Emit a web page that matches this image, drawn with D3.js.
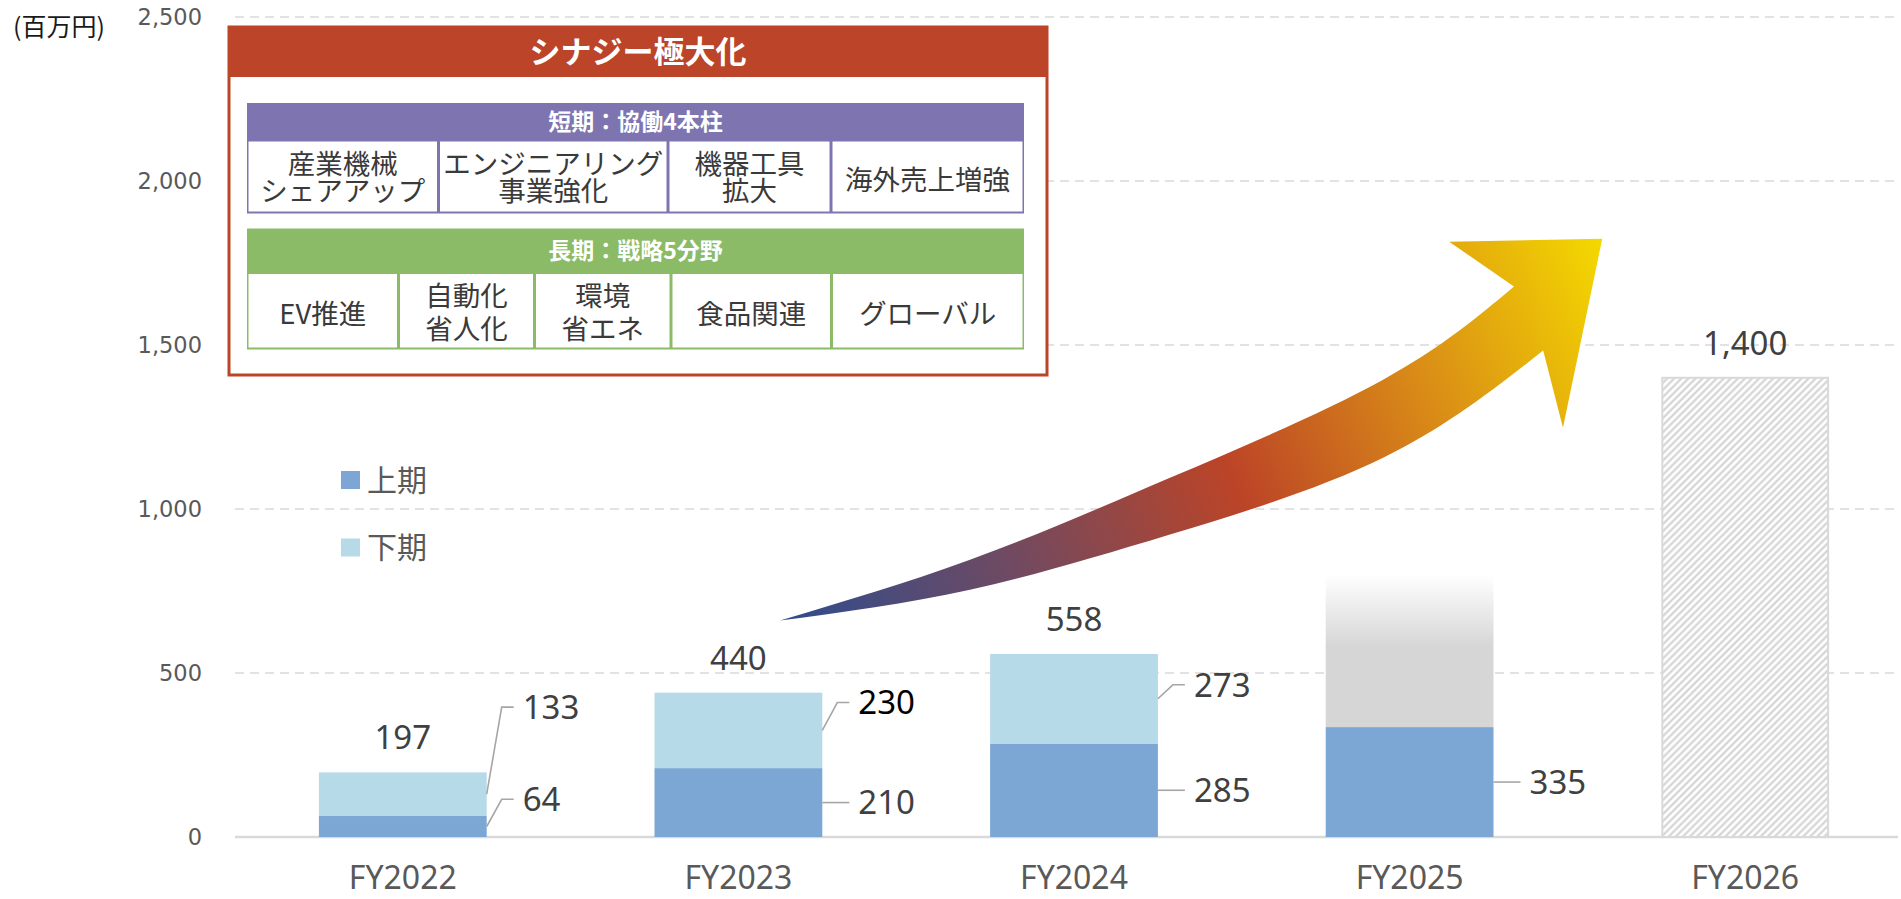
<!DOCTYPE html>
<html>
<head>
<meta charset="utf-8">
<script src="https://cdn.jsdelivr.net/npm/d3@7"></script>
<style>
  html, body { margin: 0; padding: 0; background: #ffffff; }
  svg { display: block; }
</style>
</head>
<body>
<svg id="chart" width="1901" height="899"></svg>
<script>
// ---- data ----
const categories   = ["FY2022", "FY2023", "FY2024", "FY2025", "FY2026"];
const firstHalf    = [64, 210, 285, 335, null];     // 上期
const secondHalf   = [133, 230, 273, null, null];   // 下期
const totals       = [197, 440, 558, null, 1400];   // 通期
const outlookBand  = [580, 800];                    // FY2025 下期見通し (solid to, fades out by)
const outlookIndex = 3;
const targetIndex  = 4;
const yTicks       = [0, 500, 1000, 1500, 2000, 2500];
const legendNames  = ["上期", "下期"];
const unitLabel    = "(百万円)";

const boxTitle       = "シナジー極大化";
const shortTermTitle = "短期：協働4本柱";
const shortTermItems = [["産業機械", "シェアアップ"], ["エンジニアリング", "事業強化"], ["機器工具", "拡大"], ["海外売上増強"]];
const longTermTitle  = "長期：戦略5分野";
const longTermItems  = [["EV推進"], ["自動化", "省人化"], ["環境", "省エネ"], ["食品関連"], ["グローバル"]];

// growth arrow outline, as [category index, value]
const arrowTop    = [[1.124, 660], [1.690, 845], [2.286, 1095], [2.921, 1394], [3.311, 1678]];
const arrowHead   = [[3.118, 1815], [3.574, 1824], [3.457, 1248], [3.398, 1483]];
const arrowBottom = [[3.398, 1483], [2.921, 1156], [2.286, 922], [1.690, 754], [1.124, 660]];

// ---- layout ----
const plotLeft = 235, plotRight = 1898;
const sideLabelValue = {           // where each side label sits, in axis units
  "0-0": 115, "0-1": 396,
  "1-0": 105, "1-1": 410,
  "2-0": 142, "2-1": 464,
  "3-0": 168
};
const colours = {
  first: "#7CA7D4", second: "#B7DAE9", grid: "#D9D9D9", axisText: "#595959",
  label: "#404040", leader: "#A6A6A6", outlook: "#D6D6D6", hatch: "#CFCFCF",
  red: "#BB4429", purple: "#7E75B0", green: "#8BBB67", cellText: "#3A3A3A"
};
const jp = "'Noto Sans CJK JP', 'Noto Sans', sans-serif";
const num = "'Noto Sans', 'Open Sans', sans-serif";

const svg = d3.select("#chart");
const defs = svg.append("defs");

const y = d3.scaleLinear().domain([0, 2500]).range([837, 17]);
const x = d3.scaleBand().domain(categories).range([235, 1913]).paddingInner(0.5).paddingOuter(0.25);
const bw = x.bandwidth();
const xi = d3.scaleLinear().domain([0, categories.length - 1])
  .range([x(categories[0]) + bw / 2, x(categories[categories.length - 1]) + bw / 2]);
const fmt = d3.format(",");

// ---- gridlines ----
svg.append("g").selectAll("line").data(yTicks.filter(d => d > 0)).join("line")
  .attr("x1", plotLeft).attr("x2", plotRight)
  .attr("y1", d => y(d)).attr("y2", d => y(d))
  .attr("stroke", colours.grid).attr("stroke-width", 1.5).attr("stroke-dasharray", "9,6");
svg.append("line").attr("x1", plotLeft).attr("x2", plotRight)
  .attr("y1", y(0)).attr("y2", y(0)).attr("stroke", colours.grid).attr("stroke-width", 2.5);

// ---- y axis ----
const yAxis = svg.append("g").attr("transform", "translate(202,0)")
  .call(d3.axisLeft(y).tickValues(yTicks).tickFormat(fmt).tickSize(0).tickPadding(0));
yAxis.select(".domain").remove();
yAxis.selectAll("text").attr("font-family", "'DejaVu Sans', Verdana, sans-serif")
  .attr("font-size", 22.5).attr("fill", colours.axisText);

svg.append("text").attr("x", 13).attr("y", 27).attr("dy", "0.36em")
  .attr("font-family", jp).attr("font-size", 25).attr("fill", "#1a1a1a").text(unitLabel);

// ---- x axis labels ----
svg.append("g").selectAll("text").data(categories).join("text")
  .attr("x", d => x(d) + bw / 2).attr("y", 889)
  .attr("text-anchor", "middle").attr("font-family", num).attr("font-size", 32)
  .attr("fill", colours.axisText).text(d => d);

// ---- FY2025 outlook (fading grey) ----
const outTop = y(outlookBand[1]), outBot = y(firstHalf[outlookIndex]);
const fadeGrad = defs.append("linearGradient").attr("id", "outlookFade")
  .attr("x1", 0).attr("y1", 0).attr("x2", 0).attr("y2", 1);
fadeGrad.append("stop").attr("offset", 0).attr("stop-color", "#ffffff");
fadeGrad.append("stop").attr("offset", (y(outlookBand[0]) - outTop) / (outBot - outTop)).attr("stop-color", colours.outlook);
fadeGrad.append("stop").attr("offset", 1).attr("stop-color", colours.outlook);
svg.append("rect").attr("x", x(categories[outlookIndex])).attr("width", bw)
  .attr("y", outTop).attr("height", outBot - outTop).attr("fill", "url(#outlookFade)");

// ---- FY2026 target (hatched) ----
const hatch = defs.append("pattern").attr("id", "hatch").attr("patternUnits", "userSpaceOnUse")
  .attr("width", 5).attr("height", 5).attr("patternTransform", "rotate(45)");
hatch.append("rect").attr("width", 5).attr("height", 5).attr("fill", "#ffffff");
hatch.append("line").attr("x1", 1.5).attr("x2", 1.5).attr("y1", 0).attr("y2", 5)
  .attr("stroke", colours.hatch).attr("stroke-width", 2);
svg.append("rect").attr("x", x(categories[targetIndex]) + 1).attr("width", bw - 2)
  .attr("y", y(totals[targetIndex])).attr("height", y(0) - y(totals[targetIndex]))
  .attr("fill", "url(#hatch)").attr("stroke", "#D9D9D9").attr("stroke-width", 2);

// ---- stacked bars ----
const barsG = svg.append("g");
categories.forEach((c, i) => {
  if (firstHalf[i] != null) {
    barsG.append("rect").attr("x", x(c)).attr("width", bw)
      .attr("y", y(firstHalf[i])).attr("height", y(0) - y(firstHalf[i])).attr("fill", colours.first);
  }
  if (secondHalf[i] != null) {
    const base = firstHalf[i];
    barsG.append("rect").attr("x", x(c)).attr("width", bw)
      .attr("y", y(base + secondHalf[i])).attr("height", y(base) - y(base + secondHalf[i])).attr("fill", colours.second);
  }
});

// ---- total labels ----
svg.append("g").selectAll("text").data(categories.map((c, i) => ({ c, v: totals[i] })).filter(d => d.v != null))
  .join("text")
  .attr("x", d => x(d.c) + bw / 2).attr("y", d => y(d.v) - 23)
  .attr("text-anchor", "middle").attr("font-family", num).attr("font-size", 33)
  .attr("fill", colours.label).text(d => fmt(d.v));

// ---- side labels with leader lines ----
const sideG = svg.append("g");
categories.forEach((c, i) => {
  [[firstHalf[i], 0, 0], [secondHalf[i], firstHalf[i], 1]].forEach(([v, base, s]) => {
    if (v == null || base == null) return;
    const key = i + "-" + s;
    const sx = x(c) + bw, sy = y(base + v / 2);
    const ly = y(sideLabelValue[key]);
    const ex = sx + 27;
    const pts = Math.abs(ly - sy) > 3 ? [[sx, sy], [ex - 12, ly], [ex, ly]] : [[sx, sy], [ex, sy]];
    sideG.append("path").attr("d", d3.line()(pts)).attr("fill", "none")
      .attr("stroke", colours.leader).attr("stroke-width", 1.6);
    sideG.append("text").attr("x", ex + 9).attr("y", pts[pts.length - 1][1]).attr("dy", "0.36em")
      .attr("font-family", num).attr("font-size", 33)
      .attr("fill", key === "1-1" ? "#000000" : colours.label).text(fmt(v));
  });
});

// ---- legend ----
const legendG = svg.append("g");
[colours.first, colours.second].forEach((col, k) => {
  const cy = 480 + k * 67.5;
  legendG.append("rect").attr("x", 341).attr("y", cy - 9).attr("width", 19).attr("height", 18).attr("fill", col);
  legendG.append("text").attr("x", 367).attr("y", cy).attr("dy", "0.36em")
    .attr("font-family", jp).attr("font-size", 30).attr("fill", colours.axisText).text(legendNames[k]);
});

// ---- strategy box ----
const box = { x0: 229, y0: 27, x1: 1047, y1: 375, headBottom: 77 };
const boxG = svg.append("g");
boxG.append("rect").attr("x", box.x0).attr("y", box.y0).attr("width", box.x1 - box.x0).attr("height", box.y1 - box.y0)
  .attr("fill", "#ffffff").attr("stroke", colours.red).attr("stroke-width", 3);
boxG.append("rect").attr("x", box.x0).attr("y", box.y0).attr("width", box.x1 - box.x0).attr("height", box.headBottom - box.y0)
  .attr("fill", colours.red);
boxG.append("text").attr("x", (box.x0 + box.x1) / 2).attr("y", (box.y0 + box.headBottom) / 2).attr("dy", "0.36em")
  .attr("text-anchor", "middle").attr("font-family", jp).attr("font-weight", 700).attr("font-size", 31)
  .attr("fill", "#ffffff").text(boxTitle);

function drawTable(spec) {
  const g = boxG.append("g");
  const { cols, top, headBottom, bottom, colour, title, items, lineGap, fontSize } = spec;
  g.append("rect").attr("x", cols[0]).attr("y", top).attr("width", cols[cols.length - 1] - cols[0])
    .attr("height", bottom - top).attr("fill", colour);
  g.append("text").attr("x", (cols[0] + cols[cols.length - 1]) / 2).attr("y", (top + headBottom) / 2).attr("dy", "0.36em")
    .attr("text-anchor", "middle").attr("font-family", jp).attr("font-weight", 700).attr("font-size", 23)
    .attr("fill", "#ffffff").text(title);
  items.forEach((lines, k) => {
    const cx0 = cols[k] + 1.5, cx1 = cols[k + 1] - 1.5;
    g.append("rect").attr("x", cx0).attr("y", headBottom + 1).attr("width", cx1 - cx0)
      .attr("height", bottom - headBottom - 3).attr("fill", "#ffffff");
    const mid = (headBottom + bottom) / 2 + 1;
    const cx = (cx0 + cx1) / 2;
    const t = g.append("text").attr("text-anchor", "middle").attr("font-family", jp)
      .attr("font-size", fontSize).attr("fill", colours.cellText);
    lines.forEach((line, j) => {
      const off = lines.length === 1 ? 2 : (j - (lines.length - 1) / 2) * lineGap;
      t.append("tspan").attr("x", cx).attr("y", mid + off).attr("dy", "0.36em").text(line);
    });
  });
}
drawTable({ cols: [247, 438.5, 668, 831, 1024], top: 103, headBottom: 140.5, bottom: 213.5,
  colour: colours.purple, title: shortTermTitle, items: shortTermItems, lineGap: 27, fontSize: 27.5 });
drawTable({ cols: [247, 398.5, 534.5, 671, 831.5, 1024], top: 228.5, headBottom: 273, bottom: 349.5,
  colour: colours.green, title: longTermTitle, items: longTermItems, lineGap: 33, fontSize: 27.5 });

// ---- growth arrow ----
const toPx = d => [xi(d[0]), y(d[1])];
const edge = d3.line().curve(d3.curveNatural);
const topPath = edge(arrowTop.map(toPx));
const bottomPath = edge(arrowBottom.map(toPx)).replace(/^M/, "L");
const headPath = arrowHead.map(toPx).map(p => "L" + p[0] + "," + p[1]).join("");
const tail = toPx(arrowTop[0]);
const tip = toPx(arrowHead[1]);
const arrowGrad = defs.append("linearGradient").attr("id", "arrowGrad").attr("gradientUnits", "userSpaceOnUse")
  .attr("x1", tail[0]).attr("y1", tail[1]).attr("x2", tip[0]).attr("y2", tip[1]);
[[0, "#2E4C8E"], [0.25, "#6E4A63"], [0.52, "#BC4427"], [0.75, "#D98B17"], [1, "#F4D900"]]
  .forEach(([o, c]) => arrowGrad.append("stop").attr("offset", o).attr("stop-color", c));
svg.append("path").attr("d", topPath + headPath + bottomPath + "Z").attr("fill", "url(#arrowGrad)");
</script>
</body>
</html>
